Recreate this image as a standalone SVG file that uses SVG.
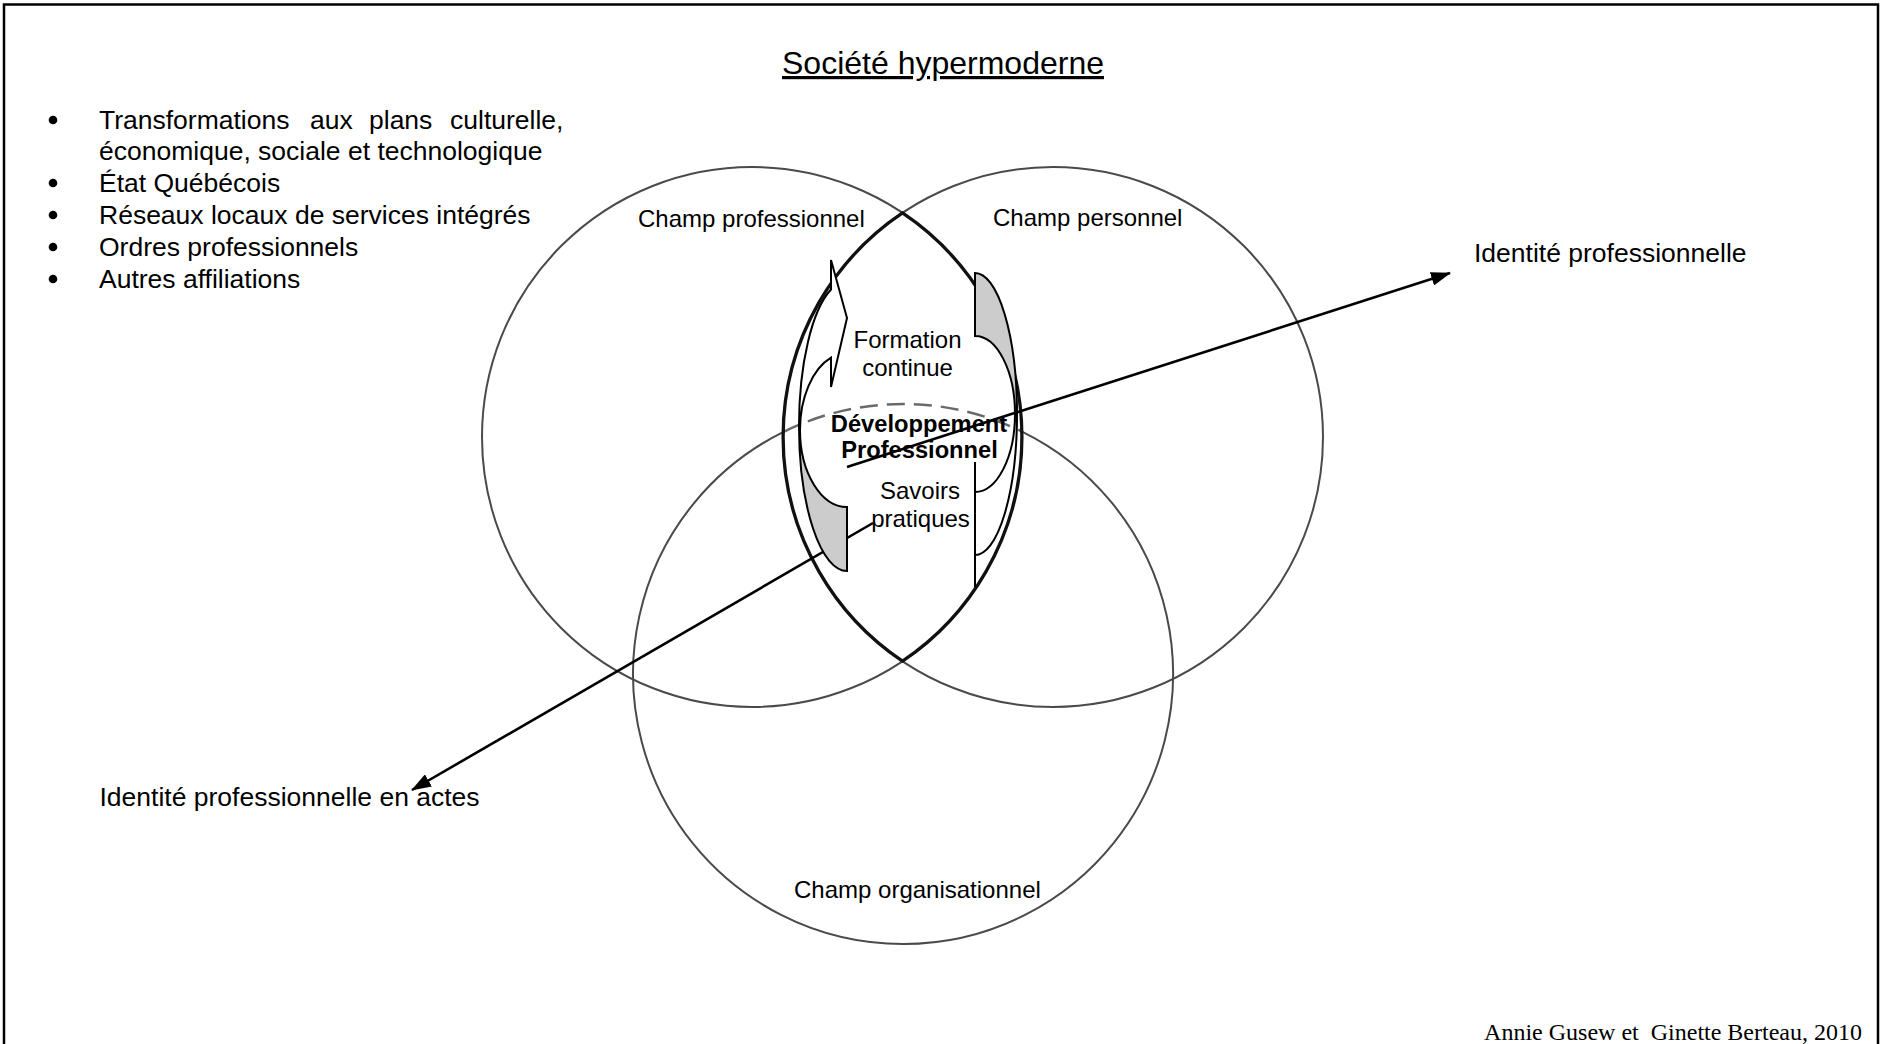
<svg xmlns="http://www.w3.org/2000/svg" width="1881" height="1044" viewBox="0 0 1881 1044">
<style>
  .sans { font-family: "Liberation Sans", Arial, sans-serif; fill: #000; }
  .list { font-size: 26.5px; }
  .lbl { font-size: 24px; }
  .bold { font-size: 23.7px; font-weight: bold; }
  .circ { fill: none; stroke: #4a4a4a; stroke-width: 2; }
  .lens { fill: none; stroke: #111; stroke-width: 3.3; }
  .dash { fill: none; stroke: #6a6a6a; stroke-width: 2.5; stroke-dasharray: 18 9; }
  .shape { stroke: #000; stroke-width: 2; stroke-linejoin: miter; }
  .face { fill: #fff; }
  .back { fill: #cccccc; }
  .conn { fill: none; stroke: #000; stroke-width: 2.6; }
</style>
<defs>
  <marker id="arr" viewBox="0 0 20 14" refX="19" refY="7" markerWidth="20" markerHeight="14" markerUnits="userSpaceOnUse" orient="auto">
    <path d="M0,0 L20,7 L0,14 Z" fill="#000"/>
  </marker>
</defs>
<rect x="0" y="0" width="1881" height="1044" fill="#fff"/>
<rect id="frame" x="4" y="4.5" width="1874" height="1060" fill="none" stroke="#000" stroke-width="2.5"/>

<g id="title">
  <text class="sans" x="943" y="74" font-size="32" text-anchor="middle" text-decoration="underline">Société hypermoderne</text>
</g>

<g id="context-list" class="sans list">
  <circle cx="53" cy="120" r="4.3" fill="#000"/>
  <text x="99" y="129">Transformations</text>
  <text x="310" y="129">aux</text>
  <text x="369" y="129">plans</text>
  <text x="450" y="129">culturelle,</text>
  <text x="99" y="160">économique, sociale et technologique</text>
  <circle cx="53" cy="183" r="4.3" fill="#000"/>
  <text x="99" y="192">État Québécois</text>
  <circle cx="53" cy="215" r="4.3" fill="#000"/>
  <text x="99" y="224">Réseaux locaux de services intégrés</text>
  <circle cx="53" cy="247" r="4.3" fill="#000"/>
  <text x="99" y="256">Ordres professionnels</text>
  <circle cx="53" cy="279" r="4.3" fill="#000"/>
  <text x="99" y="288">Autres affiliations</text>
</g>

<g id="champ-professionnel">
  <circle class="circ" cx="752" cy="437" r="270"/>
  <text class="sans lbl" x="638" y="227">Champ professionnel</text>
</g>
<g id="champ-personnel">
  <circle class="circ" cx="1053" cy="437" r="270"/>
  <text class="sans lbl" x="993" y="226">Champ personnel</text>
</g>
<g id="champ-organisationnel">
  <path class="circ" d="M1022,431.6 A270,270 0 1 1 783.1,432.1"/>
  <path class="dash" d="M783.1,432.1 A270,270 0 0 1 1022,431.6"/>
  <text class="sans lbl" x="794" y="898">Champ organisationnel</text>
</g>

<g id="intersection">
  <path class="lens" d="M902.5,212.9 A270,270 0 0 0 902.5,661.1 A270,270 0 0 0 902.5,212.9 Z"/>
</g>

<g id="connectors-lower">
  <line class="conn" x1="873" y1="523" x2="412" y2="790" marker-end="url(#arr)"/>
</g>

<g id="fleche-formation">
  <path class="shape back" d="M799,426 A48,145 0 0 0 847,571 L847,507 A47,77 0 0 1 800,430 Z"/>
  <path class="shape face" d="M799,426 A48,145 0 0 1 831,289.5 L831,260 L847,318 L831,387 L831,357.6 A47,77 0 0 0 800,430 Z"/>
</g>
<g id="fleche-savoirs">
  <path class="shape back" d="M975,273 A42,141 0 0 1 1017,414 L1015,414 A40,78 0 0 0 975,336 Z"/>
  <path class="shape face" d="M1017,414 A42,141 0 0 1 975,555 L975,587 L975,462 L975,492 A40,78 0 0 0 1015,414 Z"/>
</g>

<g id="labels-centre" class="sans">
  <text class="lbl" x="907.5" y="348" text-anchor="middle">Formation</text>
  <text class="lbl" x="907.5" y="376" text-anchor="middle">continue</text>
  <text class="bold" x="919" y="432" text-anchor="middle">Développement</text>
  <text class="bold" x="919.5" y="458" text-anchor="middle">Professionnel</text>
  <text class="lbl" x="920" y="499" text-anchor="middle">Savoirs</text>
  <text class="lbl" x="920.5" y="527" text-anchor="middle">pratiques</text>
</g>

<g id="connectors-upper">
  <line class="conn" x1="847" y1="467" x2="1450" y2="273" marker-end="url(#arr)"/>
</g>

<g id="identite-professionnelle">
  <text class="sans list" x="1474" y="262">Identité professionnelle</text>
</g>
<g id="identite-en-actes">
  <text class="sans list" x="99.5" y="806">Identité professionnelle en actes</text>
</g>

<g id="credit">
  <text x="1862" y="1040" font-family="'Liberation Serif', 'Times New Roman', serif" font-size="24" text-anchor="end" style="white-space:pre">Annie Gusew et  Ginette Berteau, 2010</text>
</g>
</svg>
